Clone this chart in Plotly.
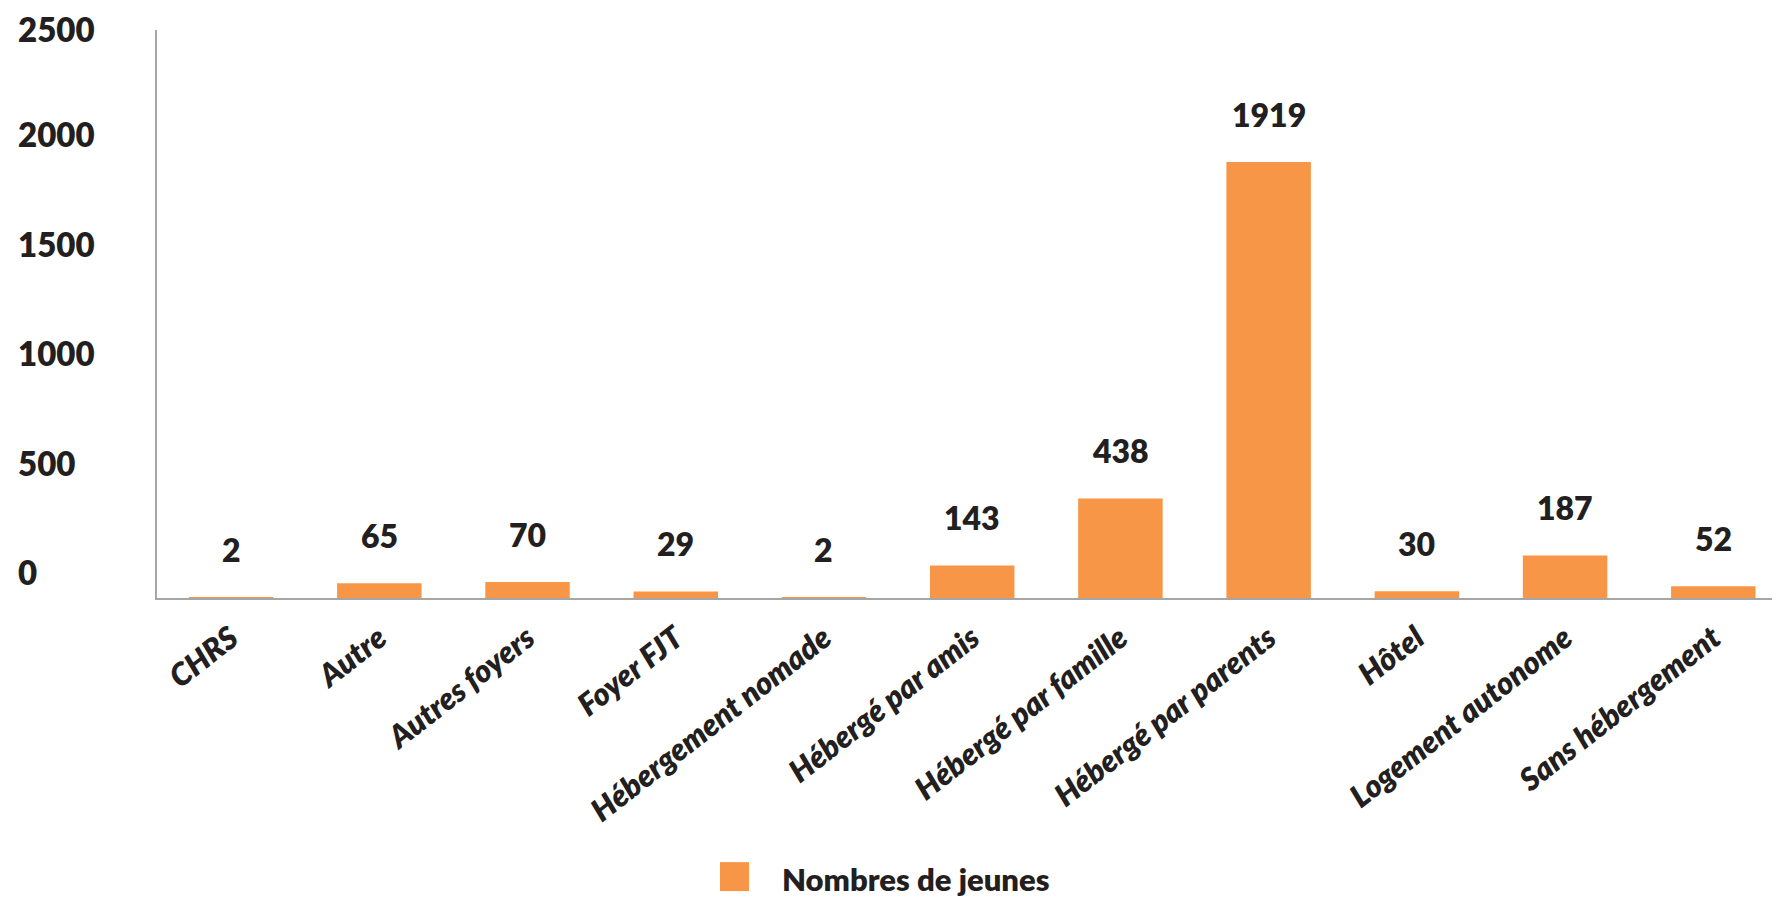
import plotly.graph_objects as go

# data
categories = ['CHRS', 'Autre', 'Autres foyers', 'Foyer FJT', 'Hébergement nomade',
              'Hébergé par amis', 'Hébergé par famille', 'Hébergé par parents',
              'Hôtel', 'Logement autonome', 'Sans hébergement']
nb_jeunes = [2, 65, 70, 29, 2, 143, 438, 1919, 30, 187, 52]
y_ticks = [0, 500, 1000, 1500, 2000, 2500]
series_name = 'Nombres de jeunes'

orange = '#F79646'
txt = '#231F20'
font_name = 'Lato'
heavy = 800

fig = go.Figure()
fig.add_trace(go.Bar(x=categories, y=nb_jeunes, marker_color=orange,
                     marker_line_width=0, name=series_name, showlegend=False))

annots = []
# value labels floating above each bar
for c, v in zip(categories, nb_jeunes):
    annots.append(dict(x=c, y=v, text=str(v), showarrow=False, yanchor='middle',
                       yshift=48, font=dict(family=font_name, size=32, color=txt, weight=heavy)))

# y tick labels, left aligned and drifting a bit above the ticks like the original
for t in y_ticks:
    shift = 26 - 21 * t / 2500
    if t == y_ticks[-1]:
        shift = 1  # keep the top label inside the page
    annots.append(dict(xref='paper', x=0, y=t, text=str(t), showarrow=False,
                       xanchor='left', xshift=-141, yanchor='middle', yshift=shift,
                       font=dict(family=font_name, size=33, color=txt, weight=heavy)))

# legend drawn by hand (bigger swatch than plotly's own)
annots.append(dict(xref='paper', yref='paper', x=0.384, y=-0.495, text=series_name,
                   showarrow=False, xanchor='left', yanchor='middle',
                   font=dict(family=font_name, size=31, color=txt, weight=heavy)))

# page body has an 8px margin, so the figure is 8px smaller
fig.update_layout(
    width=1772, height=891,
    margin=dict(l=149, r=0, t=22, b=301),
    plot_bgcolor='white', paper_bgcolor='white',
    bargap=0.43,
    showlegend=False,
    annotations=annots,
    shapes=[dict(type='rect', xref='paper', yref='paper',
                 x0=0.3469, x1=0.3648, y0=-0.465, y1=-0.516,
                 fillcolor=orange, line_width=0)],
    xaxis=dict(showline=True, linecolor='#A6A6A6', linewidth=2, showgrid=False,
               ticks='', tickangle=-38, range=[-0.5, 10.45], ticklabelstandoff=8,
               tickfont=dict(family=font_name, size=31, color=txt, weight=heavy, style='italic')),
    yaxis=dict(showline=True, linecolor='#A6A6A6', linewidth=2, showgrid=False,
               range=[0, 2500], showticklabels=False, ticks='', zeroline=False),
)

fig.write_html("out.html")
